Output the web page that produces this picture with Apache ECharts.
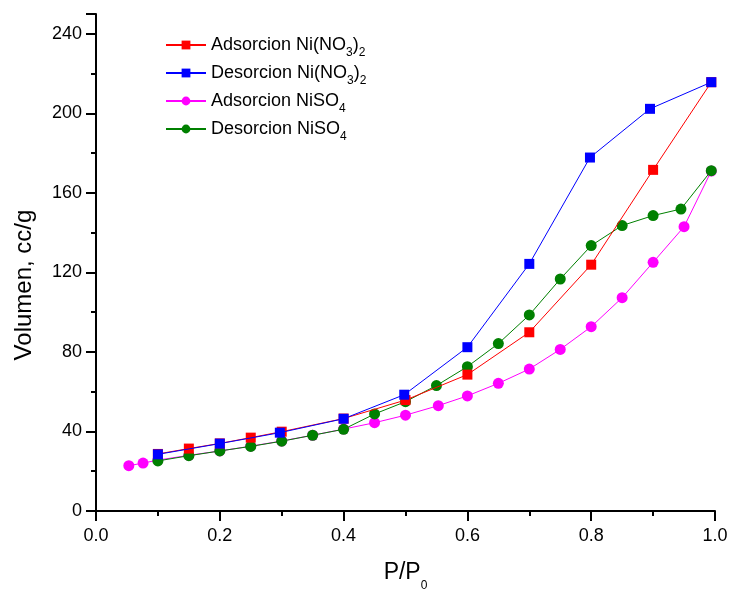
<!DOCTYPE html>
<html>
<head>
<meta charset="utf-8">
<script src="https://cdn.jsdelivr.net/npm/echarts@6/dist/echarts.min.js"></script>
<style>html,body{margin:0;padding:0;background:#fff}#c{width:731px;height:592px}</style>
</head>
<body>
<div id="c"></div>
<script>
// Data
const seriesNames = ['Adsorcion Ni(NO3)2', 'Desorcion Ni(NO3)2', 'Adsorcion NiSO4', 'Desorcion NiSO4'];
const xAdsNO3 = [0.1, 0.15, 0.2, 0.25, 0.3, 0.4, 0.5, 0.6, 0.7, 0.8, 0.9, 0.994];
const yAdsNO3 = [28.7, 31.4, 34.0, 36.9, 39.9, 46.5, 55.8, 68.6, 89.9, 123.9, 171.6, 215.7];
const xDesNO3 = [0.1, 0.2, 0.297, 0.4, 0.498, 0.6, 0.7, 0.798, 0.895, 0.994];
const yDesNO3 = [28.5, 33.9, 39.4, 46.4, 58.5, 82.4, 124.3, 177.8, 202.3, 215.7];
const xAdsSO4 = [0.053, 0.076, 0.1, 0.15, 0.2, 0.25, 0.3, 0.35, 0.4, 0.45, 0.5, 0.553, 0.6, 0.65, 0.7, 0.75, 0.8, 0.85, 0.9, 0.95, 0.994];
const yAdsSO4 = [22.8, 24.1, 25.6, 28.0, 30.2, 32.6, 35.2, 38.1, 41.2, 44.4, 48.2, 53.0, 57.9, 64.2, 71.4, 81.3, 92.7, 107.3, 125.1, 143.0, 171.0];
const xDesSO4 = [0.1, 0.15, 0.2, 0.25, 0.3, 0.35, 0.4, 0.45, 0.5, 0.55, 0.6, 0.65, 0.7, 0.75, 0.8, 0.85, 0.9, 0.945, 0.994];
const yDesSO4 = [25.2, 27.8, 30.2, 32.5, 35.1, 38.1, 41.1, 48.8, 55.0, 63.1, 72.6, 84.2, 98.6, 116.7, 133.5, 143.6, 148.6, 151.9, 171.2];
const legendRich = {
  'Adsorcion Ni(NO3)2': 'Adsorcion Ni(NO{s|3}){s|2}',
  'Desorcion Ni(NO3)2': 'Desorcion Ni(NO{s|3}){s|2}',
  'Adsorcion NiSO4': 'Adsorcion NiSO{s|4}',
  'Desorcion NiSO4': 'Desorcion NiSO{s|4}'
};

const pairs = (xs, ys) => xs.map((x, i) => [x, ys[i]]);
const FONT = 'Arial, "Liberation Sans", sans-serif';

function mk(name, xs, ys, color, symbol, z) {
  return {
    name: name, type: 'line', data: pairs(xs, ys), z: z,
    symbol: symbol, symbolSize: symbol === 'rect' ? 10 : 11,
    lineStyle: { color: color, width: 1 },
    itemStyle: { color: color },
    emphasis: { disabled: true },
    animation: false
  };
}

const chart = echarts.init(document.getElementById('c'), null, { renderer: 'canvas' });
chart.setOption({
  backgroundColor: '#fff',
  textStyle: { fontFamily: FONT },
  grid: { left: 96, right: 16, top: 14, bottom: 81, containLabel: false, outerBoundsMode: 'none' },
  legend: {
    orient: 'vertical', left: 160, top: 31,
    itemWidth: 40, itemHeight: 11, itemGap: 5,
    data: seriesNames,
    formatter: n => legendRich[n],
    textStyle: {
      fontFamily: FONT, fontSize: 18, color: '#000',
      rich: { s: { fontSize: 12, fontFamily: FONT, color: '#000', lineHeight: 28, verticalAlign: 'bottom' } }
    }
  },
  xAxis: {
    type: 'value', min: 0, max: 1, interval: 0.2,
    name: '{a|P/P}{s|0}', nameLocation: 'middle', nameGap: 43,
    nameTextStyle: { rich: {
      a: { fontSize: 23, fontFamily: FONT, color: '#000' },
      s: { fontSize: 12, fontFamily: FONT, color: '#000', lineHeight: 38, verticalAlign: 'bottom' }
    } },
    axisLine: { onZero: false, lineStyle: { color: '#000', width: 2 } },
    axisTick: { length: 10, lineStyle: { color: '#000', width: 2 } },
    minorTick: { show: true, splitNumber: 2, length: 5, lineStyle: { color: '#000', width: 2 } },
    splitLine: { show: false },
    axisLabel: { fontSize: 18, color: '#000', margin: 16, fontFamily: FONT, formatter: v => v.toFixed(1) }
  },
  yAxis: {
    type: 'value', min: 0, max: 250, interval: 40,
    name: 'Volumen, cc/g', nameLocation: 'middle', nameGap: 60, nameRotate: 90,
    nameTextStyle: { fontSize: 24, color: '#000', fontFamily: FONT, padding: [0, 45, 0, 0] },
    axisLine: { onZero: false, lineStyle: { color: '#000', width: 2 } },
    axisTick: { length: 10, lineStyle: { color: '#000', width: 2 } },
    minorTick: { show: true, splitNumber: 2, length: 5, lineStyle: { color: '#000', width: 2 } },
    splitLine: { show: false },
    axisLabel: { fontSize: 18, color: '#000', margin: 14, fontFamily: FONT, showMaxLabel: false }
  },
  series: [
    mk(seriesNames[0], xAdsNO3, yAdsNO3, '#ff0000', 'rect', 4),
    mk(seriesNames[1], xDesNO3, yDesNO3, '#0000ff', 'rect', 5),
    mk(seriesNames[2], xAdsSO4, yAdsSO4, '#ff00ff', 'circle', 2),
    mk(seriesNames[3], xDesSO4, yDesSO4, '#008000', 'circle', 3)
  ]
});
</script>
</body>
</html>
